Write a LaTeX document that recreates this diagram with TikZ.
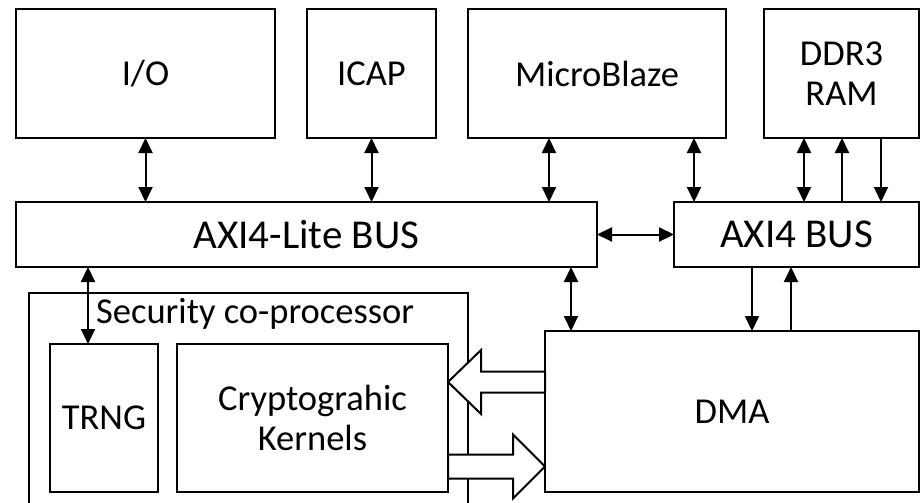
\documentclass[tikz,border=0pt]{standalone}
\usepackage{fontspec}
\setmainfont{Carlito}
\usetikzlibrary{arrows.meta,calc}
\begin{document}
\begin{tikzpicture}[x=1pt,y=-1pt,
  lbl/.style={font=\fontsize{36.5}{40.5}\selectfont},
  buslbl/.style={font=\fontsize{41}{45}\selectfont},
  box/.style={draw, line width=2pt, inner sep=0pt, outer sep=0pt, align=center, lbl, anchor=north west},
  conn/.style={line width=2pt, -{Triangle[length=15pt,width=14pt]}},
  dbl/.style={line width=2pt, {Triangle[length=15pt,width=14pt]}-{Triangle[length=15pt,width=14pt]}},
  hollow/.style={draw, fill=white, line width=2pt, line join=miter}]
\useasboundingbox (0,0) rectangle (921,503);
\clip (0,0) rectangle (921,503);
% top row
\node[box, minimum width=259pt, minimum height=129pt] (io) at (16,9) {I/O};
\node[box, minimum width=129pt, minimum height=129pt] (icap) at (307,9) {ICAP};
\node[box, minimum width=258pt, minimum height=129pt] (mb) at (468,9) {MicroBlaze};
\node[box, minimum width=155pt, minimum height=129pt] (ddr) at (764,9) {DDR3\\RAM};
% buses
\node[box, buslbl, minimum width=581pt, minimum height=65pt] (lite) at (16,202) {AXI4-Lite BUS};
\node[box, buslbl, minimum width=245pt, minimum height=65pt] (axi) at (674,202) {AXI4 BUS};
% security co-processor
\node[box, minimum width=439pt, minimum height=240pt] (sec) at (29,293) {};
\node[lbl, anchor=base west, inner sep=0pt] (seclabel) at (96,323) {Security co-processor};
\node[box, minimum width=108pt, minimum height=148pt] (trng) at (50,344) {TRNG};
\node[box, minimum width=271pt, minimum height=148pt] (crypto) at (177,344) {Cryptograhic\\Kernels};
\node[box, minimum width=374pt, minimum height=161pt] (dma) at (545,331) {DMA};
% connectors
\draw[dbl] (io.south) -- (io.south |- lite.north);
\draw[dbl] (icap.south) -- (icap.south |- lite.north);
\draw[dbl] ([xshift=-48pt]mb.south) -- ([xshift=-48pt]mb.south |- lite.north);
\draw[dbl] ([xshift=97pt]mb.south) -- ([xshift=97pt]mb.south |- axi.north);
\draw[dbl] ([xshift=-37.5pt]ddr.south) -- ([xshift=-37.5pt]ddr.south |- axi.north);
\draw[conn] ([xshift=0.5pt]ddr.south |- axi.north) -- ([xshift=0.5pt]ddr.south);
\draw[conn] ([xshift=39.5pt]ddr.south) -- ([xshift=39.5pt]ddr.south |- axi.north);
\draw[dbl] (lite.east) -- (axi.west);
\draw[conn] ([xshift=-44.5pt]axi.south) -- ([xshift=-44.5pt]axi.south |- dma.north);
\draw[conn] ([xshift=-5.5pt]axi.south |- dma.north) -- ([xshift=-5.5pt]axi.south);
\draw[dbl] ([xshift=-26pt]lite.south east) -- ([xshift=-26pt]lite.south east |- dma.north);
\draw[dbl] ([xshift=-16pt]trng.north) -- ([xshift=-16pt]trng.north |- lite.south);
% hollow data-flow arrows
\coordinate (tl) at ([yshift=36pt]crypto.east);
\draw[hollow] (tl) -- ++(33pt,32pt) -- ++(0,-21.5pt) -- ++(64pt,0) -- ++(0,-21pt) -- ++(-64pt,0) -- ++(0,-21.5pt) -- cycle;
\coordinate (tr) at ([yshift=-48.5pt]crypto.east);
\draw[hollow] ([yshift=12pt]tr) -- ++(65pt,0) -- ++(0,20pt) -- ++(32pt,-32pt) -- ++(-32pt,-32pt) -- ++(0,20pt) -- ++(-65pt,0) -- cycle;
\end{tikzpicture}
\end{document}
